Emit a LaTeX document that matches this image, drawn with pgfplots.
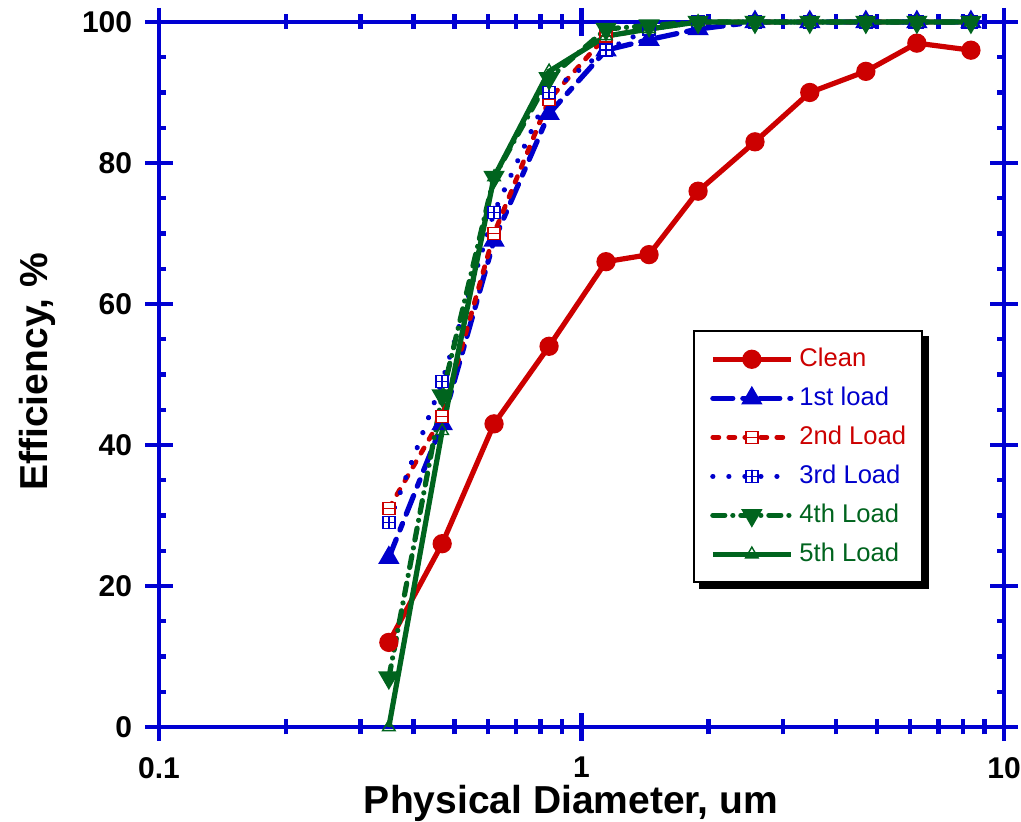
\documentclass[border=0pt]{standalone}
\usepackage{fontspec}
\setmainfont{Liberation Sans}
\usepackage{pgfplots}
\pgfplotsset{compat=1.18}
\definecolor{cred}{RGB}{204,0,0}
\definecolor{cblue}{RGB}{0,0,204}
\definecolor{cgreen}{RGB}{0,100,30}
\definecolor{axblue}{RGB}{0,0,210}

\pgfdeclareplotmark{sqminus}{%
  \pgfpathrectangle{\pgfpoint{-\pgfplotmarksize}{-\pgfplotmarksize}}{\pgfpoint{2\pgfplotmarksize}{2\pgfplotmarksize}}%
  \pgfusepathqfillstroke
  \pgfpathmoveto{\pgfpoint{-\pgfplotmarksize}{0pt}}%
  \pgfpathlineto{\pgfpoint{\pgfplotmarksize}{0pt}}%
  \pgfusepathqstroke}
\pgfdeclareplotmark{sqplus}{%
  \pgfpathrectangle{\pgfpoint{-\pgfplotmarksize}{-\pgfplotmarksize}}{\pgfpoint{2\pgfplotmarksize}{2\pgfplotmarksize}}%
  \pgfusepathqfillstroke
  \pgfpathmoveto{\pgfpoint{-\pgfplotmarksize}{0pt}}%
  \pgfpathlineto{\pgfpoint{\pgfplotmarksize}{0pt}}%
  \pgfpathmoveto{\pgfpoint{0pt}{-\pgfplotmarksize}}%
  \pgfpathlineto{\pgfpoint{0pt}{\pgfplotmarksize}}%
  \pgfusepathqstroke}

\pgfplotstableread{
x      clean  l1    l2    l3    l4    l5
0.350  12     24    31    29    7     0
0.468  26     43    44    49    47    42
0.621  43     69    70    73    78    78
0.838  54     87    89    90    92    93
1.143  66     96    98    96    99    98
1.445  67     97.5  99    99    99.5  99
1.888  76     99    100   100   100   100
2.574  83     100   100   100   100   100
3.470  90     100   100   100   100   100
4.710  93     100   100   100   100   100
6.220  97     100   100   100   100   100
8.350  96     100   100   100   100   100
}\datatable

\begin{document}
\begin{tikzpicture}
\begin{axis}[
  at={(0pt,0pt)}, anchor=south west,
  scale only axis, width=422.5pt, height=352.5pt,
  xmode=log, xmin=0.1, xmax=10, ymin=0, ymax=100,
  clip=false,
  xtick={0.1,1,10}, xticklabels={0.1,1,10},
  minor xtick={0.2,0.3,0.4,0.5,0.6,0.7,0.8,0.9,2,3,4,5,6,7,8,9},
  ytick={0,20,40,60,80,100}, yticklabels={0,20,40,60,80,100},
  tick align=center, major tick length=14pt, minor tick length=7.5pt,
  axis line style={line width=2.4pt, draw=axblue},
  tick style={line width=2.2pt, draw=axblue},
  tick label style={font=\bfseries\fontsize{15}{15}\selectfont, black},
  xticklabel style={yshift=-4.5pt},
  yticklabel style={xshift=-3pt},
  xlabel={Physical Diameter, um},
  ylabel={Efficiency, \%},
  xlabel style={font=\bfseries\fontsize{19.5}{20}\selectfont, at={(axis description cs:0.4876,0)}, anchor=base, yshift=-43.5pt},
  ylabel style={font=\bfseries\fontsize{19.5}{20}\selectfont, at={(axis description cs:0,0.504)}, anchor=center, yshift=61pt},
  legend style={name=leg, at={(0.632,0.563)}, anchor=north west, draw=black, line width=1.2pt, fill=white,
    inner xsep=8pt, inner ysep=8pt, row sep=7.5pt, font=\fontsize{12.8}{14}\selectfont,
    cells={anchor=west}, nodes={inner sep=0pt, text height=9.5pt, text depth=2.5pt},
    /tikz/every odd column/.append style={column sep=3pt}},
  legend image code/.code={\draw[mark repeat=2,mark phase=2,#1] plot coordinates {(0pt,0pt) (19.5pt,0pt) (39pt,0pt)};},
]
\addplot[cred, line width=2.6pt, mark=*, mark size=3.5pt, mark options={solid}] table[x=x,y=clean] {\datatable};
\addlegendentry{\textcolor{cred}{Clean}}
\addplot[cblue, line width=2.6pt, line cap=round, dash pattern=on 10pt off 5pt on 3.5pt off 5pt, mark=triangle*, mark size=3.6pt, mark options={solid}] table[x=x,y=l1] {\datatable};
\addlegendentry{\textcolor{cblue}{1st load}}
\addplot[cred, line width=2.4pt, line cap=round, dash pattern=on 3pt off 5pt, mark=sqminus, mark size=3pt, mark options={solid, fill=white, line width=0.7pt}] table[x=x,y=l2] {\datatable};
\addlegendentry{\textcolor{cred}{2nd Load}}
\addplot[cblue, line width=2.6pt, line cap=round, dash pattern=on 0.01pt off 8pt, mark=sqplus, mark size=3pt, mark options={solid, fill=white, line width=0.7pt}] table[x=x,y=l3] {\datatable};
\addlegendentry{\textcolor{cblue}{3rd Load}}
\addplot[cgreen, line width=2.6pt, line cap=round, dash pattern=on 6pt off 4pt on 0.01pt off 4pt, mark=triangle*, mark size=3.6pt, mark options={solid, rotate=180}] table[x=x,y=l4] {\datatable};
\addlegendentry{\textcolor{cgreen}{4th Load}}
\addplot[cgreen, line width=2.6pt, mark=triangle, mark size=3.6pt, mark options={solid, fill=white, line width=0.7pt}] table[x=x,y=l5] {\datatable};
\addlegendentry{\textcolor{cgreen}{5th Load}}
\end{axis}
\fill[black] ([shift={(3pt,0pt)}]leg.south west) rectangle ([shift={(3pt,-3pt)}]leg.south east);
\fill[black] ([shift={(0pt,-3pt)}]leg.north east) rectangle ([shift={(3pt,-3pt)}]leg.south east);
\begin{axis}[
  at={(0pt,0pt)}, anchor=south west,
  scale only axis, width=422.5pt, height=352.5pt,
  xmode=log, xmin=0.1, xmax=10, ymin=0, ymax=100,
  hide x axis,
  ytick={5,10,15,25,30,35,45,50,55,65,70,75,85,90,95}, yticklabels={},
  tick align=inside, major tick length=3.5pt,
  axis line style={line width=2.4pt, draw=axblue},
  tick style={line width=2.2pt, draw=axblue},
]
\end{axis}
\pgfresetboundingbox
\path[use as bounding box] (-79.5pt,-47.5pt) rectangle (431pt,363.5pt);
\end{tikzpicture}
\end{document}
